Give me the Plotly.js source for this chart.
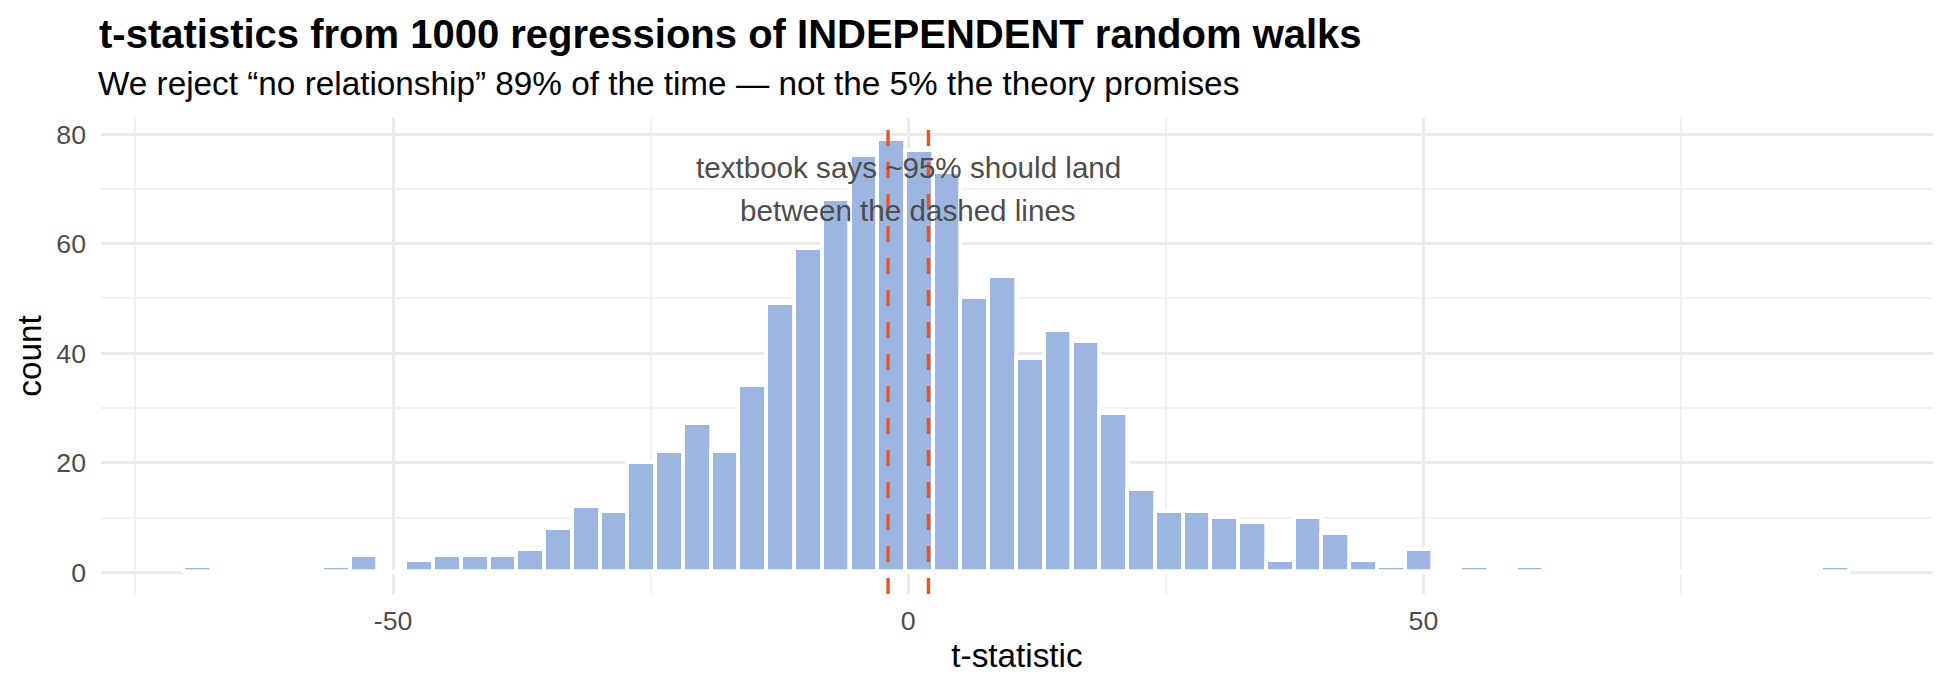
<!DOCTYPE html>
<html>
<head>
<meta charset="utf-8">
<script src="https://cdn.plot.ly/plotly-3.0.1.min.js"></script>
<style>html,body{margin:0;padding:0;background:#fff;} #chart{width:1950px;height:690px;}</style>
</head>
<body>
<div id="chart"></div>
<script>
// histogram bins (centres) and counts
const binCenters = [-68.92,-66.23,-63.53,-60.84,-58.14,-55.45,-52.76,-50.06,-47.37,-44.67,
  -41.98,-39.29,-36.59,-33.90,-31.20,-28.51,-25.82,-23.12,-20.43,-17.73,
  -15.04,-12.35,-9.65,-6.96,-4.26,-1.57,1.12,3.82,6.51,9.21,
  11.90,14.59,17.29,19.98,22.68,25.37,28.06,30.76,33.45,36.15,
  38.84,41.53,44.23,46.92,49.62,52.31,55.00,57.70,60.39,63.09,
  65.78,68.47,71.17,73.86,76.56,79.25,81.94,84.64,87.33,90.03];
const counts = [1,0,0,0,0,1,3,0,2,3,
  3,3,4,8,12,11,20,22,27,22,
  34,49,59,68,76,79,77,73,50,54,
  39,44,42,29,15,11,11,10,9,2,
  10,7,2,1,4,0,1,0,1,0,
  0,0,0,0,0,0,0,0,0,1];
const critVals = [-1.96, 1.96];
const xTickVals = [-50, 0, 50];
const xTickText = ['-50', '0', '50'];
const yTickVals = [0, 20, 40, 60, 80];
const noteLines = ['textbook says ~95% should land', 'between the dashed lines'];
const noteY = [73.9, 66.1];

(function(){
  const FONT = 'Liberation Sans, Arial, sans-serif';
  const binW = binCenters[1] - binCenters[0];
  const first = binCenters[0] - binW/2, last = binCenters[binCenters.length-1] + binW/2;
  const xPad = (last - first) * 0.05;
  const yMax = Math.max(...counts), yPad = yMax * 0.05;

  const bars = { type:'bar', x:binCenters, y:counts, width:binW,
    marker:{ color:'#9db5e1', line:{ color:'#ffffff', width:3.7 } }, hoverinfo:'x+y', showlegend:false };
  // empty bins still get a white outline along the baseline, as ggplot draws them
  const baseline = { type:'scatter', mode:'lines', x:[first, last], y:[0, 0],
    line:{ color:'#ffffff', width:3.7 }, hoverinfo:'skip', showlegend:false };

  const grid = { showgrid:true, gridcolor:'#ebebeb', gridwidth:3.2, zeroline:false, showline:false, ticks:'' };
  const layout = {
    width:1950, height:690,
    margin:{ l:100.6, r:17, t:118, b:96 },
    paper_bgcolor:'#ffffff', plot_bgcolor:'#ffffff',
    font:{ family:FONT, color:'#000000' },
    bargap:0,
    title:{ text:'<b>t-statistics from 1000 regressions of INDEPENDENT random walks</b>',
      font:{ family:FONT, size:40, color:'#000000' },
      xref:'container', x:99/1950, xanchor:'left', yref:'container', y:1-34/690, yanchor:'middle' },
    xaxis:{ ...grid, range:[first - xPad, last + xPad], tickmode:'array', tickvals:xTickVals, ticktext:xTickText,
      tickfont:{ family:FONT, size:26.7, color:'#4d4d4d' }, ticklabelstandoff:8,
      minor:{ dtick:25, tick0:0, showgrid:true, gridcolor:'#f2f2f2', gridwidth:1.6 },
      title:{ text:'t-statistic', font:{ family:FONT, size:33.3, color:'#000000' }, standoff:8 } },
    yaxis:{ ...grid, range:[-yPad, yMax + yPad], tickmode:'array', tickvals:yTickVals,
      tickfont:{ family:FONT, size:26.7, color:'#4d4d4d' }, ticklabelstandoff:14,
      minor:{ dtick:10, tick0:0, showgrid:true, gridcolor:'#f2f2f2', gridwidth:1.6 },
      title:{ text:'count', font:{ family:FONT, size:33.3, color:'#000000' }, standoff:4 } },
    shapes: critVals.map(v => ({ type:'line', xref:'x', yref:'paper', x0:v, x1:v, y0:0, y1:1,
      line:{ color:'#e4572e', width:3.4, dash:'16px,16px' } })),
    annotations: [
      { xref:'paper', yref:'paper', x:0, y:1 + 35/476, xanchor:'left', yanchor:'middle', xshift:-5, showarrow:false,
        text:'We reject \u201cno relationship\u201d 89% of the time \u2014 not the 5% the theory promises',
        font:{ family:FONT, size:33.3, color:'#000000' } }
    ].concat(noteLines.map((t, i) => ({ xref:'x', yref:'y', x:0, y:noteY[i], xanchor:'center', yanchor:'middle',
      showarrow:false, text:t, font:{ family:FONT, size:29.6, color:'#4d4d4d' } })))
  };
  try { Plotly.newPlot('chart', [bars, baseline], layout, { displayModeBar:false, responsive:false }); } catch(_){ }
})();
</script>
</body>
</html>
